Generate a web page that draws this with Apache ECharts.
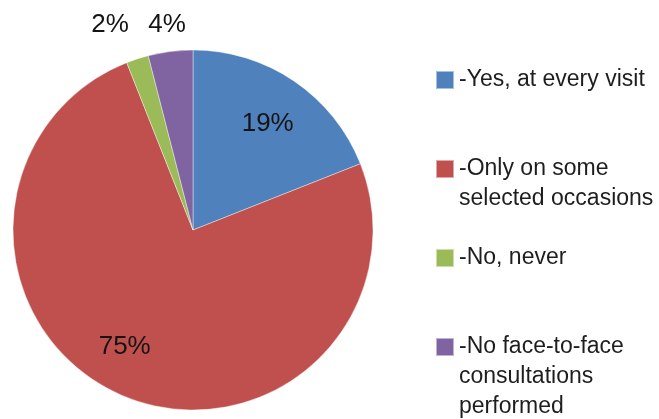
<!DOCTYPE html>
<html>
<head>
<meta charset="utf-8">
<script src="https://cdn.jsdelivr.net/npm/echarts@6/dist/echarts.min.js"></script>
<style>
  html, body { margin: 0; padding: 0; background: #ffffff; }
  #chart { width: 659px; height: 419px; }
</style>
</head>
<body>
<div id="chart"></div>
<script>
// respuestas (lineas tal como salen en la leyenda)
const answerLines = [
  ['-Yes, at every visit'],
  ['-Only on some', 'selected occasions'],
  ['-No, never'],
  ['-No face-to-face', 'consultations', 'performed'],
];
const answerValues = [19, 75, 2, 4];

const answerNames = answerLines.map((l) => l.join(' '));
const sliceColors = ['#4F81BD', '#C0504D', '#9BBB59', '#8064A2'];

// donde va cada etiqueta: fraccion del radio y giro extra en grados
const labelSpots = [
  { k: 0.72, da: 1 },
  { k: 0.75, da: 7 },
  { k: 1.23, da: -4 },
  { k: 1.15, da: 0 },
];

const pieCenter = [193, 230];
const pieRadius = 180;
const total = answerValues.reduce((a, b) => a + b, 0);

const getOption = () => {
  return {
    backgroundColor: '#ffffff',
    animation: false,
    legend: {
      orient: 'vertical',
      left: 435,
      top: 5,
      height: 1000,
      padding: 0,
      itemGap: -61,
      itemWidth: 18,
      itemHeight: 18,
      icon: 'rect',
      selectedMode: false,
      data: answerNames,
      formatter: (name) => {
        const lines = answerLines[answerNames.indexOf(name)];
        // la primera linea queda centrada con el cuadrito
        return [' ', ' ', lines[0], lines[1] || ' ', lines[2] || ' '].join('\n');
      },
      textStyle: {
        fontFamily: 'Liberation Sans',
        fontSize: 23,
        lineHeight: 30,
        color: '#1e1e1e',
      },
    },
    series: [
      {
        type: 'pie',
        center: pieCenter,
        radius: [0, pieRadius],
        startAngle: 90,
        clockwise: true,
        percentPrecision: 0,
        itemStyle: {
          borderColor: 'rgba(255,255,255,0.5)',
          borderWidth: 0.8,
        },
        label: {
          show: true,
          position: 'inside',
          formatter: '{d}%',
          fontFamily: 'Liberation Sans',
          fontSize: 26,
          color: '#141414',
        },
        labelLine: { show: false },
        labelLayout: (p) => {
          const i = p.dataIndex;
          const before = answerValues.slice(0, i).reduce((a, b) => a + b, 0);
          const mid = ((before + answerValues[i] / 2) / total) * 360 + labelSpots[i].da;
          const rad = (mid * Math.PI) / 180;
          const d = pieRadius * labelSpots[i].k;
          return {
            x: pieCenter[0] + d * Math.sin(rad),
            y: pieCenter[1] - d * Math.cos(rad),
            align: 'center',
            verticalAlign: 'middle',
          };
        },
        emphasis: { disabled: true },
        data: answerNames.map((name, i) => ({
          name: name,
          value: answerValues[i],
          itemStyle: { color: sliceColors[i] },
        })),
      },
    ],
  };
};

const chart = echarts.init(document.getElementById('chart'));
chart.setOption(getOption());
</script>
</body>
</html>
